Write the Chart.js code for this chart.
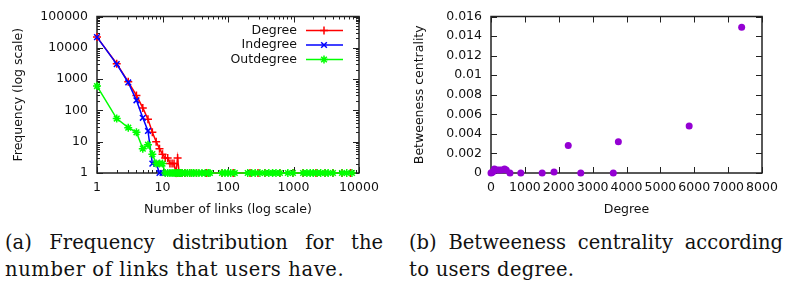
<!DOCTYPE html>
<html>
<head>
<meta charset="utf-8">
<script src="https://cdn.jsdelivr.net/npm/chart.js@4.4.0/dist/chart.umd.min.js"></script>
<style>
  body { margin: 0; background: #fff; width: 787px; height: 288px; position: relative; overflow: hidden; }
  canvas { position: absolute; top: 0; }
  #freqChart { left: 0; }
  #btwChart { left: 390px; }
  .cap { position: absolute; font-family: "DejaVu Serif", "Liberation Serif", serif; font-size: 19.5px; color: #111; line-height: 27px; white-space: nowrap; }
  .cap .l1 { text-align: justify; text-align-last: justify; }
  #capA { left: 5px; top: 229px; width: 378px; }
  #capA .l2 { letter-spacing: 0.6px; }
  #capB { left: 409px; top: 229px; width: 374px; }
  #capB .l2 { letter-spacing: 0.3px; }
</style>
</head>
<body>
<canvas id="freqChart" width="390" height="222"></canvas>
<canvas id="btwChart" width="397" height="222"></canvas>
<div class="cap" id="capA"><div class="l1">(a) Frequency distribution for the</div><div class="l2">number of links that users have.</div></div>
<div class="cap" id="capB"><div class="l1">(b) Betweeness centrality according</div><div class="l2">to users degree.</div></div>
<script>
// (a) frequency of number of links, log-log
const seriesNames = ["Degree", "Indegree", "Outdegree"];
const degreeLinks = [1, 2, 3, 4, 5, 6, 7, 8, 9, 10, 11, 12, 13, 14, 15, 16, 17, 18, 20, 22, 26, 33, 47, 81, 120, 217, 287, 366, 620, 980, 1400, 2200, 3030, 4000, 5500, 7400];
const degreeFreq  = [22000, 3100, 820, 300, 120, 52, 20, 10, 6, 4, 3, 3, 2, 2, 2, 1, 3, 1, 1, 1, 1, 1, 1, 1, 1, 1, 1, 1, 1, 1, 1, 1, 1, 1, 1, 1];
const inLinks = [1, 2, 3, 4, 5, 6, 7, 8, 9, 10, 11, 12, 14, 16, 18, 22, 47];
const inFreq  = [22000, 3000, 780, 210, 58, 22, 2, 2, 1, 1, 1, 1, 1, 1, 1, 1, 1];
const outLinks = [1, 2, 3, 4, 5, 6, 7, 8, 9, 10, 11, 12, 13, 14, 15, 16, 17, 18, 19, 20, 22, 24, 26, 28, 30, 33, 36, 40, 45, 50, 53, 81, 90, 100, 110, 127, 200, 230, 260, 307, 366, 420, 480, 540, 620, 820, 980, 1400, 1600, 1800, 2000, 2300, 2600, 3030, 3380, 4000, 5500, 6500, 7800];
const outFreq  = [600, 55, 28, 20, 6, 8, 4, 2, 2, 2, 1, 1, 1, 1, 1, 1, 1, 1, 1, 1, 1, 1, 1, 1, 1, 1, 1, 1, 1, 1, 1, 1, 1, 1, 1, 1, 1, 1, 1, 1, 1, 1, 1, 1, 1, 1, 1, 1, 1, 1, 1, 1, 1, 1, 1, 1, 1, 1, 1];
const linkTicks = [1, 10, 100, 1000, 10000];
const freqTicks = [1, 10, 100, 1000, 10000, 100000];

// (b) betweenness centrality against degree
const userDegree = [0, 20, 50, 100, 130, 180, 250, 320, 400, 450, 560, 880, 1510, 1860, 2280, 2650, 3610, 3760, 5850, 7400];
const betweenness = [0, 0.00005, 0.0001, 0.0004, 0.0003, 0.0003, 0.0003, 0.0003, 0.0004, 0.0003, 0, 0, 0, 0.0001, 0.0028, 0, 0, 0.0032, 0.0048, 0.0149];
const degreeTicks = [0, 1000, 2000, 3000, 4000, 5000, 6000, 7000, 8000];
const btwTicks = [0, 0.002, 0.004, 0.006, 0.008, 0.01, 0.012, 0.014, 0.016];

const FONT = "DejaVu Sans";
const TXT = "#111";
const pts = (xs, ys) => xs.map((x, i) => ({ x, y: ys[i] }));

// minor ticks for a log axis: 2..9 of every decade below the last
const logMinor = (decades) => {
  const out = [];
  decades.slice(0, -1).forEach(d => { for (let k = 2; k <= 9; k++) out.push(d * k); });
  return out;
};

// gnuplot-like border with inward ticks on all four sides
const framePlugin = {
  id: "frame",
  beforeDatasetsDraw(chart, args, opts) {
    const { ctx, chartArea: a, scales } = chart;
    const xs = scales.x, ys = scales.y;
    ctx.save();
    ctx.strokeStyle = "#222";
    ctx.lineWidth = 1;
    const marks = (vals, len) => {
      ctx.beginPath();
      vals.forEach(v => {
        const px = Math.round(xs.getPixelForValue(v)) + 0.5;
        if (px < a.left - 1 || px > a.right + 1) return;
        ctx.moveTo(px, a.bottom); ctx.lineTo(px, a.bottom - len);
        ctx.moveTo(px, a.top); ctx.lineTo(px, a.top + len);
      });
      ctx.stroke();
    };
    const marksY = (vals, len) => {
      ctx.beginPath();
      vals.forEach(v => {
        const py = Math.round(ys.getPixelForValue(v)) + 0.5;
        if (py < a.top - 1 || py > a.bottom + 1) return;
        ctx.moveTo(a.left, py); ctx.lineTo(a.left + len, py);
        ctx.moveTo(a.right, py); ctx.lineTo(a.right - len, py);
      });
      ctx.stroke();
    };
    marks(opts.xMajor, 6);
    marksY(opts.yMajor, 6);
    if (opts.xMinor) marks(opts.xMinor, 3);
    if (opts.yMinor) marksY(opts.yMinor, 3);
    ctx.lineWidth = 1.5;
    ctx.strokeRect(a.left, a.top, a.right - a.left, a.bottom - a.top);
    ctx.restore();
  }
};

// key in the top right corner: label, then line sample with marker
const keyPlugin = {
  id: "key",
  afterDatasetsDraw(chart) {
    const { ctx, chartArea: a } = chart;
    ctx.save();
    ctx.font = "12.5px '" + FONT + "'";
    ctx.textAlign = "right";
    ctx.textBaseline = "middle";
    chart.data.datasets.forEach((ds, i) => {
      const y = a.top + 14 + i * 14.5;
      ctx.fillStyle = TXT;
      ctx.fillText(ds.label, a.right - 62, y);
      ctx.strokeStyle = ds.borderColor;
      ctx.lineWidth = 1.5;
      ctx.beginPath();
      ctx.moveTo(a.right - 53, y);
      ctx.lineTo(a.right - 16, y);
      ctx.stroke();
      Chart.helpers.drawPoint(ctx, { pointStyle: ds.pointStyle, radius: 4, borderWidth: 1.5, rotation: 0 }, a.right - 35, y);
    });
    ctx.restore();
  }
};

const lineSet = (label, xs, ys, color, style, order) => ({
  label,
  data: pts(xs, ys),
  borderColor: color,
  backgroundColor: color,
  borderWidth: 1.5,
  pointStyle: style,
  pointRadius: 4,
  pointBorderWidth: 1.5,
  pointBorderColor: color,
  tension: 0,
  clip: false,
  order
});

const tickFont = { family: FONT, size: 12.5 };

new Chart(document.getElementById("freqChart"), {
  type: "line",
  data: {
    datasets: [
      lineSet(seriesNames[0], degreeLinks, degreeFreq, "#ff0000", "cross", 3),
      lineSet(seriesNames[1], inLinks, inFreq, "#0000ff", "crossRot", 2),
      lineSet(seriesNames[2], outLinks, outFreq, "#00ff00", "star", 1)
    ]
  },
  options: {
    responsive: false,
    animation: false,
    events: [],
    layout: { padding: { top: 9, right: 31, bottom: 0, left: 0 } },
    plugins: {
      legend: { display: false },
      tooltip: { enabled: false },
      frame: { xMajor: linkTicks, yMajor: freqTicks, xMinor: logMinor(linkTicks), yMinor: logMinor(freqTicks) }
    },
    scales: {
      x: {
        type: "logarithmic",
        min: 1,
        max: 10000,
        afterBuildTicks: s => { s.ticks = linkTicks.map(v => ({ value: v })); },
        afterFit: s => { s.height = 49; },
        grid: { display: false, drawTicks: false },
        border: { display: false },
        ticks: { color: TXT, font: tickFont, padding: 7, autoSkip: false, maxRotation: 0, callback: v => String(v) },
        title: { display: true, text: "Number of links (log scale)", color: TXT, font: tickFont, padding: { top: 0, bottom: 5 } }
      },
      y: {
        type: "logarithmic",
        min: 1,
        max: 100000,
        afterBuildTicks: s => { s.ticks = freqTicks.map(v => ({ value: v })); },
        afterFit: s => { s.width = 97; },
        grid: { display: false, drawTicks: false },
        border: { display: false },
        ticks: { color: TXT, font: tickFont, padding: 9, autoSkip: false, callback: v => String(v) },
        title: { display: true, text: "Frequency (log scale)", color: TXT, font: tickFont, padding: { top: 11, bottom: 0 } }
      }
    }
  },
  plugins: [framePlugin, keyPlugin]
});

new Chart(document.getElementById("btwChart"), {
  type: "scatter",
  data: {
    datasets: [{
      label: "Betweenness",
      data: pts(userDegree, betweenness),
      backgroundColor: "#9400d3",
      borderColor: "#9400d3",
      pointRadius: 3.5,
      borderWidth: 0,
      clip: false
    }]
  },
  options: {
    responsive: false,
    animation: false,
    events: [],
    layout: { padding: { top: 9, right: 25, bottom: 0, left: 0 } },
    plugins: {
      legend: { display: false },
      tooltip: { enabled: false },
      frame: { xMajor: degreeTicks, yMajor: btwTicks }
    },
    scales: {
      x: {
        type: "linear",
        min: 0,
        max: 8000,
        afterBuildTicks: s => { s.ticks = degreeTicks.map(v => ({ value: v })); },
        afterFit: s => { s.height = 49; },
        grid: { display: false, drawTicks: false },
        border: { display: false },
        ticks: { color: TXT, font: tickFont, padding: 7, autoSkip: false, maxRotation: 0, callback: v => String(v) },
        title: { display: true, text: "Degree", color: TXT, font: tickFont, padding: { top: 0, bottom: 5 } }
      },
      y: {
        type: "linear",
        min: 0,
        max: 0.016,
        afterBuildTicks: s => { s.ticks = btwTicks.map(v => ({ value: v })); },
        afterFit: s => { s.width = 101; },
        grid: { display: false, drawTicks: false },
        border: { display: false },
        ticks: { color: TXT, font: tickFont, padding: 9, autoSkip: false, callback: v => String(+v.toFixed(3)) },
        title: { display: true, text: "Betweeness centrality", color: TXT, font: tickFont, padding: { top: 22.5, bottom: 0 } }
      }
    }
  },
  plugins: [framePlugin]
});
</script>
</body>
</html>
